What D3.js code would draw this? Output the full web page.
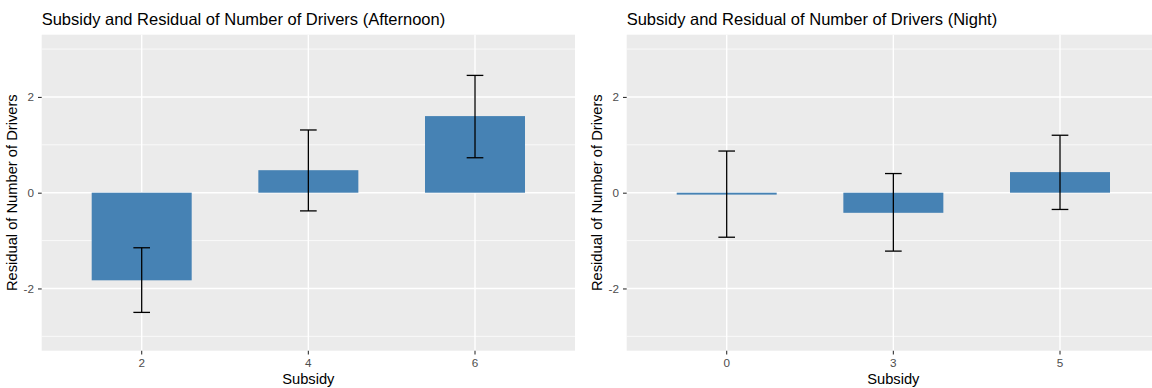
<!DOCTYPE html>
<html>
<head>
<meta charset="utf-8">
<script src="https://cdn.jsdelivr.net/npm/d3@7"></script>
<style>
  body { margin: 0; background: #fff; }
  svg { display: block; font-family: "Liberation Sans", Arial, sans-serif; }
</style>
</head>
<body>
<div id="chart"></div>
<script>
// afternoon panel
const afternoonSubsidy = ["2", "4", "6"]
const afternoonResidual = [-1.83, 0.47, 1.60]
const afternoonLower = [-2.50, -0.38, 0.73]
const afternoonUpper = [-1.15, 1.31, 2.45]

// night panel
const nightSubsidy = ["0", "3", "5"]
const nightResidual = [-0.04, -0.42, 0.43]
const nightLower = [-0.93, -1.22, -0.35]
const nightUpper = [0.87, 0.40, 1.20]

const yMajor = [-2, 0, 2]
const yMinor = [-3, -1, 1, 3]
const yDomain = [-3.3, 3.3]

const width = 1152, height = 388
const svg = d3.select('#chart').append('svg')
  .attr('width', width)
  .attr('height', height)

function drawPanel(offset, title, cats, vals, lo, hi) {
  const left = 41.7 + offset, right = 575 + offset
  const top = 34.7, bottom = 350.7

  const x = d3.scaleBand()
    .domain(cats)
    .range([left, right])
    .paddingInner(0.4)
    .paddingOuter(0.3)

  const y = d3.scaleLinear()
    .domain(yDomain)
    .range([bottom, top])

  const g = svg.append('g')

  g.append('rect')
    .attr('x', left).attr('y', top)
    .attr('width', right - left).attr('height', bottom - top)
    .attr('fill', '#EBEBEB')

  // grid
  g.selectAll('.minor').data(yMinor).enter().append('line')
    .attr('x1', left).attr('x2', right)
    .attr('y1', d => y(d)).attr('y2', d => y(d))
    .attr('stroke', '#fff').attr('stroke-width', 0.7)
  g.selectAll('.major').data(yMajor).enter().append('line')
    .attr('x1', left).attr('x2', right)
    .attr('y1', d => y(d)).attr('y2', d => y(d))
    .attr('stroke', '#fff').attr('stroke-width', 1.4)
  g.selectAll('.vgrid').data(cats).enter().append('line')
    .attr('x1', d => x(d) + x.bandwidth() / 2).attr('x2', d => x(d) + x.bandwidth() / 2)
    .attr('y1', top).attr('y2', bottom)
    .attr('stroke', '#fff').attr('stroke-width', 1.4)

  // bars
  g.selectAll('.bars').data(cats).enter().append('rect')
    .attr('x', d => x(d))
    .attr('y', (d, i) => y(Math.max(0, vals[i])))
    .attr('width', x.bandwidth())
    .attr('height', (d, i) => Math.abs(y(vals[i]) - y(0)))
    .attr('fill', '#4682B4')

  // error bars
  const cap = x.step() * 0.05
  const eb = g.selectAll('.err').data(cats).enter().append('g')
    .attr('stroke', '#000').attr('stroke-width', 1.3)
  eb.append('line')
    .attr('x1', d => x(d) + x.bandwidth() / 2).attr('x2', d => x(d) + x.bandwidth() / 2)
    .attr('y1', (d, i) => y(lo[i])).attr('y2', (d, i) => y(hi[i]))
  eb.append('line')
    .attr('x1', d => x(d) + x.bandwidth() / 2 - cap).attr('x2', d => x(d) + x.bandwidth() / 2 + cap)
    .attr('y1', (d, i) => y(lo[i])).attr('y2', (d, i) => y(lo[i]))
  eb.append('line')
    .attr('x1', d => x(d) + x.bandwidth() / 2 - cap).attr('x2', d => x(d) + x.bandwidth() / 2 + cap)
    .attr('y1', (d, i) => y(hi[i])).attr('y2', (d, i) => y(hi[i]))

  // axes
  const ax = g.append('g')
    .attr('transform', 'translate(0,' + bottom + ')')
    .call(d3.axisBottom(x).tickSize(3.7).tickPadding(4))
  const ay = g.append('g')
    .attr('transform', 'translate(' + left + ',0)')
    .call(d3.axisLeft(y).tickValues(yMajor).tickFormat(d => String(d)).tickSize(3.7).tickPadding(4))
  for (const a of [ax, ay]) {
    a.select('.domain').remove()
    a.selectAll('line').attr('stroke', '#333').attr('stroke-width', 1.1)
    a.selectAll('text').attr('fill', '#4D4D4D')
      .style('font-size', '11.7px').style('font-family', '"Liberation Sans", Arial, sans-serif')
  }

  g.append('text')
    .attr('x', left).attr('y', 25)
    .style('font-size', '16.5px')
    .text(title)

  g.append('text')
    .attr('x', (left + right) / 2).attr('y', 384)
    .attr('text-anchor', 'middle')
    .style('font-size', '14.7px')
    .text('Subsidy')

  g.append('text')
    .attr('transform', 'translate(' + (17 + offset) + ',' + ((top + bottom) / 2) + ')rotate(-90)')
    .attr('text-anchor', 'middle')
    .style('font-size', '14.7px')
    .text('Residual of Number of Drivers')
}

drawPanel(0, 'Subsidy and Residual of Number of Drivers (Afternoon)',
  afternoonSubsidy, afternoonResidual, afternoonLower, afternoonUpper)
drawPanel(585, 'Subsidy and Residual of Number of Drivers (Night)',
  nightSubsidy, nightResidual, nightLower, nightUpper)
</script>
</body>
</html>
